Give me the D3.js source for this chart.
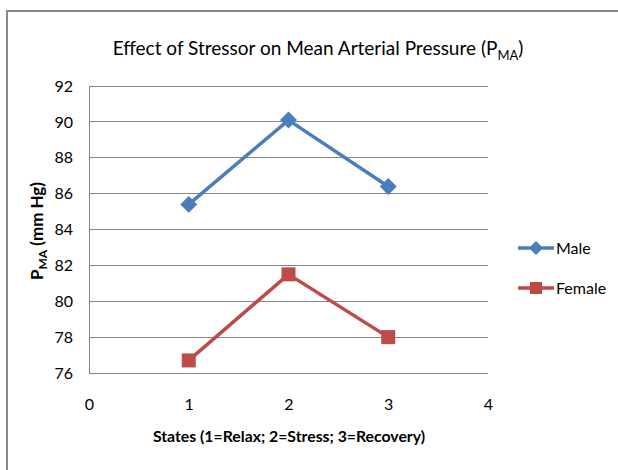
<!DOCTYPE html>
<html><head><meta charset="utf-8">
<script src="https://cdn.jsdelivr.net/npm/d3@7"></script>
<style>body{margin:0;background:#fff}svg{display:block}text{font-family:Lato,"Open Sans",sans-serif;fill:#000}</style>
</head><body><svg id="c" width="618" height="470"></svg>
<script>
const states = [1, 2, 3];
const male = [85.4, 90.1, 86.4];
const female = [76.7, 81.5, 78.0];
const seriesNames = ["Male", "Female"];
const yTicks = [76, 78, 80, 82, 84, 86, 88, 90, 92];
const xTicks = [0, 1, 2, 3, 4];

const svg = d3.select("#c");
svg.append("rect").attr("x", 7).attr("y", 11).attr("width", 640).attr("height", 500)
  .attr("fill", "#fff").attr("stroke", "#898989").attr("stroke-width", 2);

const x = d3.scaleLinear().domain([0, 4]).range([89, 488]);
const y = d3.scaleLinear().domain([76, 92]).range([373, 86]);

svg.append("g").selectAll("line").data(yTicks).join("line")
  .attr("x1", x(0)).attr("x2", x(4)).attr("y1", d => y(d)).attr("y2", d => y(d))
  .attr("stroke", "#868686").attr("stroke-width", 1).attr("shape-rendering", "crispEdges");
svg.append("line").attr("x1", x(0)).attr("x2", x(0)).attr("y1", y(92)).attr("y2", y(76))
  .attr("stroke", "#868686").attr("shape-rendering", "crispEdges");

const yAxis = svg.append("g").attr("transform", `translate(${x(0)},0)`)
  .call(d3.axisLeft(y).tickValues(yTicks).tickFormat(d3.format("d")).tickSize(0).tickPadding(16));
yAxis.select(".domain").remove();
yAxis.selectAll("text").style("font-size", "16px").style("font-family", "Lato,sans-serif");

const xAxis = svg.append("g").attr("transform", `translate(0,${y(76)})`)
  .call(d3.axisBottom(x).tickValues(xTicks).tickFormat(d3.format("d")).tickSize(0).tickPadding(26));
xAxis.select(".domain").remove();
xAxis.selectAll("text").style("font-size", "16px").style("font-family", "Lato,sans-serif");

const t = svg.append("text").attr("x", 318).attr("y", 55).attr("text-anchor", "middle")
  .style("font-size", "19px");
t.append("tspan").text("Effect of Stressor on Mean Arterial Pressure (P");
t.append("tspan").attr("dy", 5).style("font-size", "13px").text("MA");
t.append("tspan").attr("dy", -5).text(")");

svg.append("text").attr("x", 289).attr("y", 442).attr("text-anchor", "middle")
  .style("font-size", "15.8px").style("font-weight", "bold").text("States (1=Relax; 2=Stress; 3=Recovery)");

const yt = svg.append("text").attr("transform", "translate(43,231) rotate(-90)").attr("text-anchor", "middle")
  .style("font-size", "17px").style("font-weight", "bold");
yt.append("tspan").text("P");
yt.append("tspan").attr("dy", 4).style("font-size", "12px").text("MA");
yt.append("tspan").attr("dy", -4).text(" (mm Hg)");

const colors = ["#4a7ebb", "#be4b48"];
const line = d3.line().x((d, i) => x(states[i])).y(d => y(d));
[male, female].forEach((data, k) => {
  svg.append("path").datum(data).attr("d", line).attr("fill", "none")
    .attr("stroke", colors[k]).attr("stroke-width", 3.5);
  const g = svg.append("g");
  data.forEach((v, i) => {
    if (k === 0) {
      g.append("rect").attr("x", -6).attr("y", -6).attr("width", 12).attr("height", 12)
        .attr("transform", `translate(${x(states[i])},${y(v)}) rotate(45)`).attr("fill", colors[k]);
    } else {
      g.append("rect").attr("x", x(states[i]) - 7).attr("y", y(v) - 7).attr("width", 14).attr("height", 14)
        .attr("fill", colors[k]);
    }
  });
});

seriesNames.forEach((name, k) => {
  const ly = 248 + k * 40;
  svg.append("line").attr("x1", 518).attr("x2", 554).attr("y1", ly).attr("y2", ly)
    .attr("stroke", colors[k]).attr("stroke-width", 3.5);
  if (k === 0) {
    svg.append("rect").attr("x", -5).attr("y", -5).attr("width", 10).attr("height", 10)
      .attr("transform", `translate(536,${ly}) rotate(45)`).attr("fill", colors[k]);
  } else {
    svg.append("rect").attr("x", 530).attr("y", ly - 6).attr("width", 12).attr("height", 12).attr("fill", colors[k]);
  }
  svg.append("text").attr("x", 556).attr("y", ly + 6).style("font-size", "16px").text(name);
});
</script></body></html>
